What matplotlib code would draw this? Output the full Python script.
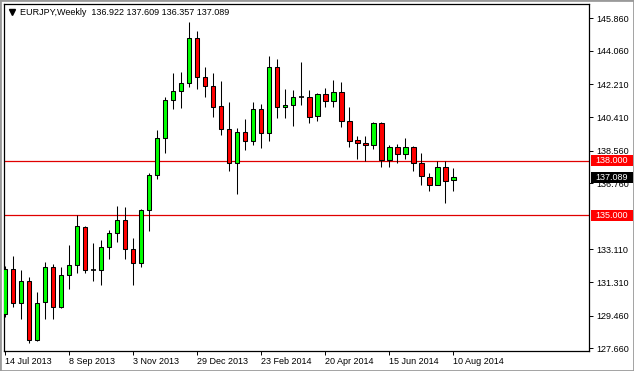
import matplotlib
matplotlib.use("Agg")
import matplotlib.pyplot as plt
import matplotlib.transforms as mtransforms
from matplotlib.patches import Rectangle
from matplotlib.lines import Line2D

plt.rcParams['font.family'] = ['Liberation Sans', 'DejaVu Sans']

# weekly EURJPY candles, 14 Jul 2013 .. 10 Aug 2014
symbol = "EURJPY,Weekly"
last_ohlc = [136.922, 137.609, 136.357, 137.089]

opens = [129.55, 132.05, 130.14, 131.36, 128.12, 130.21, 132.13, 129.92, 131.72, 132.24,
         134.37, 131.98, 131.98, 133.26, 134.00, 134.74, 133.15, 132.38, 135.29, 137.20,
         139.26, 141.35, 141.83, 142.275, 144.77, 142.61, 142.13, 141.02, 139.74, 137.86,
         139.59, 139.11, 140.84, 139.55, 143.16, 140.95, 141.06, 141.54, 141.54, 140.45,
         141.67, 141.28, 141.795, 140.18, 139.15, 139.00, 138.86, 140.10, 138.045, 138.75,
         138.38, 138.75, 137.90, 137.125, 136.65, 137.68, 136.922]
highs = [132.20, 132.75, 131.98, 131.58, 130.77, 132.42, 132.31, 132.13, 133.37, 135.00,
         134.40, 133.45, 133.63, 134.185, 135.51, 135.44, 133.74, 135.33, 137.31, 139.70,
         141.50, 142.83, 142.90, 145.66, 145.18, 143.16, 142.86, 142.39, 141.24, 139.81,
         140.29, 141.24, 141.13, 143.78, 143.60, 141.94, 141.91, 143.45, 141.91, 141.76,
         142.02, 142.46, 142.35, 140.985, 139.37, 139.37, 140.12, 140.12, 138.86, 138.91,
         139.26, 138.82, 138.415, 137.31, 137.97, 137.97, 137.609]
lows = [129.37, 129.955, 129.29, 127.97, 128.05, 129.29, 129.29, 129.88, 130.95, 131.83,
        131.80, 131.39, 131.135, 132.60, 133.52, 132.60, 131.17, 132.16, 134.11, 136.98,
        138.415, 140.875, 140.91, 142.055, 141.94, 141.50, 140.43, 139.41, 137.455, 136.17,
        138.60, 138.89, 138.71, 139.11, 140.36, 140.36, 139.92, 141.095, 140.07, 140.21,
        140.985, 140.95, 139.85, 138.75, 138.12, 138.01, 138.67, 137.68, 137.68, 137.90,
        138.08, 137.455, 136.68, 136.35, 136.65, 135.69, 136.357]
closes = [132.05, 130.14, 131.36, 128.12, 130.175, 132.13, 129.92, 131.72, 132.24, 134.41,
          131.98, 131.98, 133.26, 134.00, 134.74, 133.15, 132.38, 135.29, 137.20, 139.26,
          141.35, 141.87, 142.275, 144.77, 142.61, 142.13, 140.985, 139.74, 137.86, 139.59,
          139.11, 140.84, 139.55, 143.16, 140.95, 141.06, 141.50, 141.54, 140.43, 141.685,
          141.28, 141.795, 140.18, 139.11, 138.97, 138.86, 140.10, 138.045, 138.75, 138.38,
          138.75, 137.86, 137.16, 136.65, 137.68, 136.90, 137.089]

date_idx = [0, 8, 16, 24, 32, 40, 48, 56]
date_labels = ["14 Jul 2013", "8 Sep 2013", "3 Nov 2013", "29 Dec 2013",
               "23 Feb 2014", "20 Apr 2014", "15 Jun 2014", "10 Aug 2014"]
price_ticks = [127.66, 129.46, 131.31, 133.11, 136.76,
               138.56, 140.41, 142.21, 144.06, 145.86]
levels = [138.0, 135.0]

W, H = 634, 371
fig = plt.figure(figsize=(W / 100, H / 100), dpi=100)
fig.patch.set_facecolor('white')
ax = fig.add_axes([4 / W, 20 / H, 585 / W, 346.7 / H])
ax.set_xlim(-0.16, 72.96)
ax.set_ylim(127.51, 146.63)

# levels
for lvl in levels:
    ax.axhline(lvl, color='#e00000', lw=0.9, zorder=1)

# candles
for i, (o, h, l, c) in enumerate(zip(opens, highs, lows, closes)):
    ax.vlines(i, l, h, color='black', lw=0.75, zorder=2)
    if c == o:
        ax.hlines(o, i - 0.28, i + 0.28, color='black', lw=1.2, zorder=3)
        continue
    col = '#00ff00' if c > o else '#ff0000'
    ax.bar(i, abs(c - o), bottom=min(o, c), width=0.55, color=col,
           edgecolor='black', linewidth=0.75, zorder=3)

for s in ax.spines.values():
    s.set_linewidth(0.9)
    s.set_color('black')

# axes
ax.yaxis.tick_right()
ax.set_yticks(price_ticks)
ax.set_yticklabels(['%.3f' % p for p in price_ticks])
ax.tick_params(axis='y', length=3, width=0.7, pad=2.0, labelsize=6.5, direction='out')
ax.set_xticks(date_idx)
ax.set_xticklabels(date_labels)
for t in ax.get_xticklabels():
    t.set_horizontalalignment('left')
ax.tick_params(axis='x', length=3, width=0.7, pad=1.5, labelsize=6.5, direction='out')

# price boxes on the right
blend = mtransforms.blended_transform_factory(ax.transAxes, ax.transData)
boxes = [(levels[0], '#ff0000'), (levels[1], '#ff0000'), (last_ohlc[3], 'black')]
for val, bg in boxes:
    ax.add_patch(Rectangle((1.004, val - 0.31), 0.072, 0.62, transform=blend,
                           facecolor=bg, edgecolor='none', clip_on=False, zorder=5))
    ax.text(1.0 + 6 / 585, val, '%.3f' % val, transform=blend, va='center', ha='left',
            color='white', fontsize=6.5, zorder=6, clip_on=False)

# header
fig.add_artist(Line2D([12 / W], [1 - 12 / H], marker='v', markersize=4.5,
                      color='black', transform=fig.transFigure))
fig.text(20 / W, 1 - 12.7 / H,
         symbol + "  " + " ".join('%.3f' % v for v in last_ohlc),
         fontsize=6.5, va='center', ha='left', color='black')

# window frame
fig.add_artist(Rectangle((0, 0), 1, 1, transform=fig.transFigure, fill=False,
                         edgecolor='#9a9a9a', lw=2))

fig.savefig('out.png', dpi=100)
